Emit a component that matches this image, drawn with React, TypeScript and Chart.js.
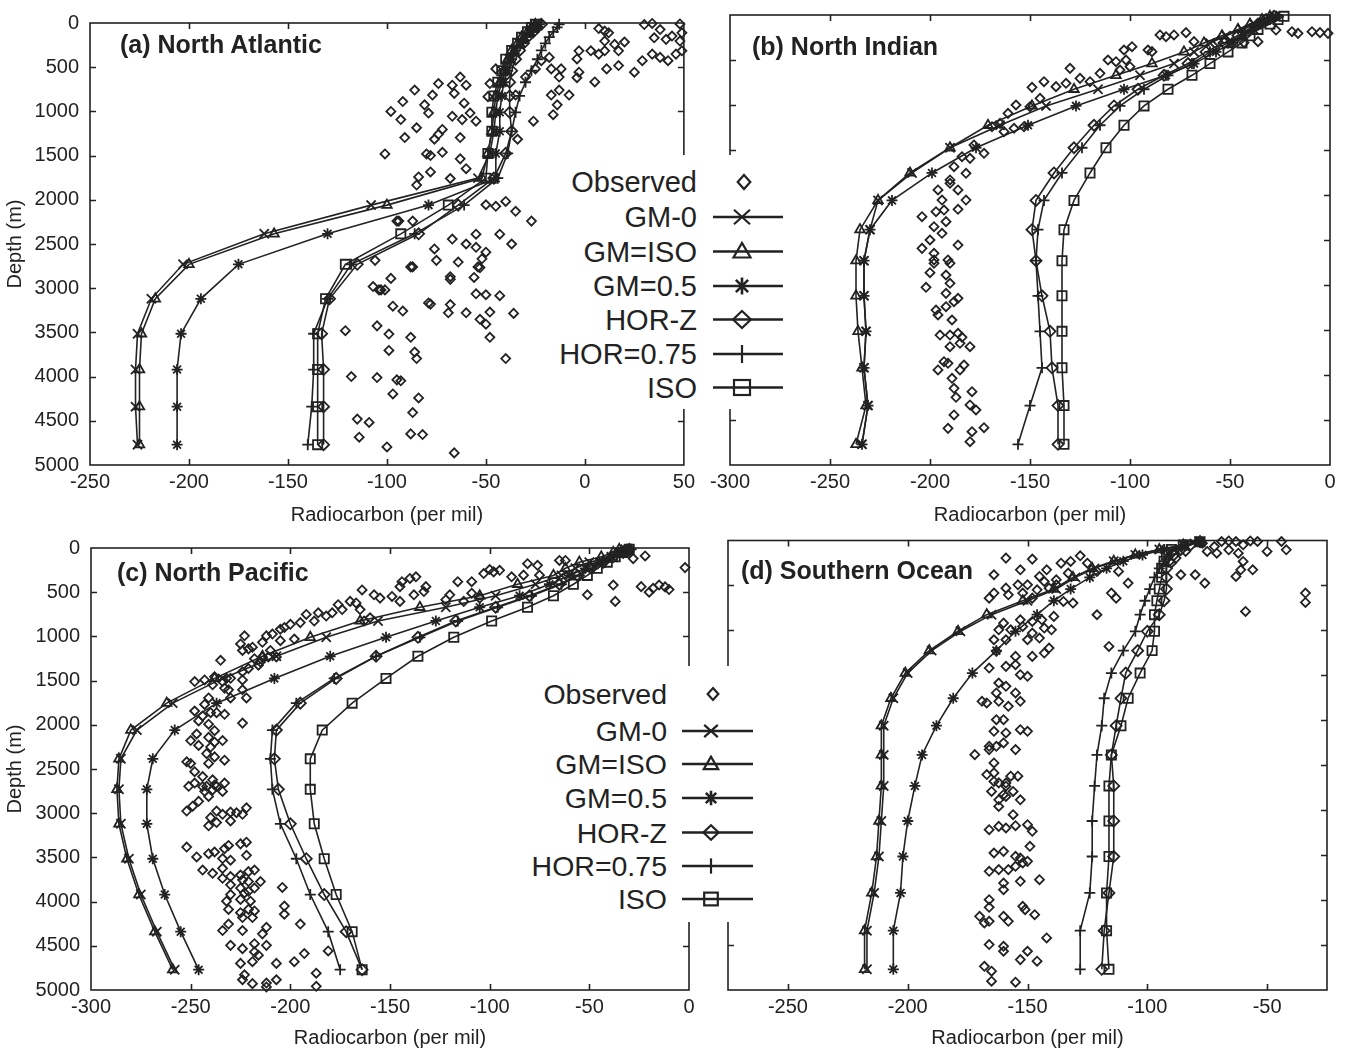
import React, { useEffect, useRef } from "react";
import { Chart, registerables } from "chart.js";

Chart.register(...registerables);

const FONT = "'Liberation Sans', Arial, Helvetica, sans-serif";
const INK = "#222222";

// ---------- shared ----------
const modelDepths = [15, 50, 100, 160, 230, 310, 410, 540, 670, 825, 1010, 1225, 1475, 1755, 2060, 2385, 2730, 3120, 3515, 3920, 4340, 4770];
const depthTicks = [0, 500, 1000, 1500, 2000, 2500, 3000, 3500, 4000, 4500, 5000];
const seriesNames = ["GM-0", "GM=ISO", "GM=0.5", "HOR-Z", "HOR=0.75", "ISO"];
const legendLabels = ["Observed", ...seriesNames];
const xTitle = "Radiocarbon (per mil)";
const yTitle = "Depth (m)";
const panelTitles = ["(a) North Atlantic", "(b) North Indian", "(c) North Pacific", "(d) Southern Ocean"];

// ---------- (a) North Atlantic ----------
const atlTicks = [-250, -200, -150, -100, -50, 0, 50];
const atlGM0 = [-24, -26, -28, -31, -33, -36, -38, -40, -42, -44, -45, -46, -48, -54, -108, -162, -203, -219, -226, -227, -227, -226];
const atlGMISO = [-25, -27, -29, -32, -34, -37, -39, -41, -43, -45, -46, -47, -49, -52, -100, -157, -200, -217, -224, -225, -225, -225];
const atlGM05 = [-23, -25, -27, -30, -32, -35, -37, -39, -41, -42, -43, -43, -45, -45, -79, -130, -175, -194, -204, -206, -206, -206];
const atlHORZ = [-22, -24, -26, -29, -31, -33, -35, -37, -38, -38, -38, -37, -40, -46, -64, -84, -115, -129, -133, -132, -132, -132];
const atlHOR075 = [-13, -14, -16, -18, -20, -22, -24, -27, -30, -33, -35, -37, -39, -44, -61, -86, -118, -130, -137, -137, -138, -140];
const atlISO = [-25, -27, -29, -32, -34, -37, -40, -42, -44, -46, -47, -47, -49, -50, -69, -93, -121, -131, -135, -135, -135, -135];
const atlObserved = [
  [7, 63], [10, 92], [12, 111], [10, 204], [15, 241], [20, 215], [30, 18], [34, 5], [38, 74], [41, 185], [35, 167], [44, 148], [48, 11], [49, 111], [48, 204], [49, 315], [46, 352], [42, 426], [38, 389], [34, 352], [29, 426], [25, 556], [17, 315], [10, 315], [7, 352], [3, 315], [-3, 315], [-4, 407], [11, 519], [17, 481], [5, 667], [-3, 556], [-4, 619], [-13, 611], [-12, 519], [-17, 519], [-18, 389], [-22, 426], [-25, 519], [-17, 815], [-13, 759], [-8, 815], [-14, 926], [-16, 1037], [-26, 1111], [-30, 611], [-35, 815], [-34, 1315], [-45, 519], [-48, 685], [-49, 833],
  [-98, 1000], [-92, 889], [-93, 1092], [-86, 759], [-85, 1185], [-81, 926], [-79, 1019], [-77, 815], [-74, 685], [-67, 704], [-66, 796], [-63, 611], [-60, 704], [-61, 907], [-58, 1019], [-55, 1111], [-67, 1056], [-62, 1093], [-72, 1204], [-74, 1259], [-76, 1315], [-91, 1296], [-63, 1296], [-101, 1481], [-80, 1481], [-78, 1500], [-72, 1463], [-63, 1537], [-60, 1648], [-78, 1685], [-84, 1741], [-85, 1833], [-68, 1759],
  [-94, 2241], [-87, 2241], [-76, 2556], [-67, 2444], [-60, 2500], [-55, 2537], [-50, 2593], [-52, 2667], [-54, 2759], [-64, 2704], [-75, 2685], [-87, 2759], [-55, 2389], [-43, 2389], [-50, 2056], [-45, 2074], [-40, 2019], [-35, 2130], [-27, 2241], [-37, 2500],
  [-98, 2889], [-103, 3019], [-88, 2759], [-68, 2870], [-68, 2900], [-56, 2878], [-53, 2767], [-55, 3063], [-50, 3074], [-43, 3085], [-79, 3167], [-78, 3180], [-97, 3204], [-92, 3259], [-68, 3185], [-69, 3278], [-60, 3278], [-48, 3270], [-36, 3285], [-53, 3352], [-50, 3407], [-48, 3556], [-99, 3519], [-88, 3556], [-99, 3704], [-86, 3722], [-85, 3796], [-40, 3796], [-93, 4048], [-97, 4196], [-84, 4241], [-87, 4407], [-88, 4648], [-82, 4656], [-100, 4796], [-66, 4863],
  [-107, 2981], [-104, 3019], [-101, 3019], [-121, 3481], [-105, 3426], [-118, 4000], [-105, 4011], [-115, 4481], [-109, 4519], [-114, 4685], [-95, 4037], [-106, 2685], [-95, 2241],
];

// ---------- (b) North Indian ----------
const indTicks = [-300, -250, -200, -150, -100, -50, 0];
const indGM0 = [-28, -32, -38, -44, -52, -60, -68, -78, -95, -116, -142, -165, -190, -209, -226, -230, -233, -233, -232, -233, -231, -234];
const indGMISO = [-30, -34, -40, -46, -54, -63, -73, -89, -107, -128, -149, -171, -190, -210, -226, -235, -237, -237, -236, -234, -232, -237];
const indGM05 = [-27, -30, -34, -38, -43, -49, -57, -68, -82, -103, -127, -151, -177, -199, -219, -230, -233, -233, -232, -233, -231, -234];
const indHORZ = [-28, -32, -36, -40, -46, -53, -62, -71, -83, -96, -108, -118, -128, -138, -147, -149, -147, -144, -140, -139, -136, -136];
const indHOR075 = [-27, -31, -35, -39, -44, -51, -60, -69, -81, -93, -105, -115, -124, -134, -143, -146, -147, -146, -145, -144, -150, -156];
const indISO = [-23, -26, -30, -36, -40, -44, -51, -60, -69, -81, -93, -103, -112, -120, -128, -133, -134, -134, -134, -134, -133, -133];
const indObserved = [
  [-85, 222], [-82, 241], [-78, 222], [-72, 196], [-68, 296], [-89, 407], [-91, 389], [-99, 352], [-103, 389], [-102, 500], [-100, 574], [-107, 519], [-111, 500], [-105, 611], [-115, 648], [-120, 741], [-125, 704], [-130, 593], [-132, 759], [-137, 796], [-143, 741], [-149, 804], [-145, 926], [-150, 1019], [-157, 1000], [-161, 1093], [-165, 1204], [-163, 1296], [-158, 1259], [-153, 1241], [-169, 1241], [-178, 1444], [-173, 1537], [-180, 1593], [-184, 1574], [-188, 1685], [-182, 1759], [-190, 1833], [-186, 1944], [-196, 1944], [-194, 2056], [-190, 1870], [-182, 2056], [-193, 2167], [-197, 2185], [-186, 2159], [-204, 2241], [-192, 2296], [-198, 2352], [-194, 2426], [-200, 2500], [-186, 2556], [-204, 2593], [-198, 2648], [-198, 2722], [-191, 2722],
  [-27, 167], [-19, 185], [-16, 204], [-9, 185], [-5, 196], [-1, 204], [-36, 296], [-43, 307], [-56, 296], [-49, 315],
  [-198, 2759], [-190, 2759], [-200, 2863], [-192, 2889], [-190, 2981], [-202, 3026], [-192, 3093], [-186, 3148], [-188, 3185], [-197, 3278], [-196, 3333], [-192, 3241], [-189, 3389], [-195, 3556], [-190, 3556], [-186, 3537], [-184, 3581], [-180, 3685], [-190, 3685], [-185, 3648], [-193, 3852], [-191, 3870], [-196, 3944], [-185, 3944], [-183, 3889], [-189, 4037], [-188, 4148], [-179, 4185], [-187, 4248], [-180, 4333], [-177, 4389], [-188, 4444], [-191, 4593], [-179, 4630], [-173, 4585], [-180, 4741],
];

// ---------- (c) North Pacific ----------
const pacTicks = [-300, -250, -200, -150, -100, -50, 0];
const pacGM0 = [-32, -35, -39, -50, -57, -64, -77, -97, -122, -156, -182, -207, -234, -259, -277, -285, -286, -285, -281, -275, -267, -258];
const pacGMISO = [-35, -38, -44, -55, -62, -68, -86, -105, -135, -165, -190, -214, -238, -262, -280, -286, -287, -286, -282, -276, -268, -259];
const pacGM05 = [-31, -34, -39, -45, -52, -60, -70, -85, -105, -127, -152, -180, -208, -237, -258, -269, -272, -272, -269, -263, -255, -246];
const pacHORZ = [-30, -33, -38, -43, -49, -56, -65, -80, -97, -117, -136, -157, -177, -195, -207, -208, -206, -200, -192, -183, -172, -164];
const pacHOR075 = [-29, -32, -36, -42, -48, -55, -64, -79, -96, -116, -135, -157, -178, -197, -209, -210, -209, -205, -197, -190, -181, -175];
const pacISO = [-30, -33, -37, -41, -46, -51, -58, -68, -81, -99, -118, -136, -152, -169, -184, -190, -190, -188, -183, -177, -169, -164];
const pacObserved = [
  [-2, 222], [-24, 437], [-18, 456], [-15, 419], [-20, 500], [-38, 419], [-37, 604], [-51, 530], [-10, 470], [-12, 440], [-30, 40], [-22, 90], [-28, 120],
  [-62, 141], [-65, 141], [-81, 178], [-76, 196], [-89, 326], [-83, 307], [-75, 307], [-100, 244], [-98, 270], [-95, 252], [-103, 289], [-109, 381], [-116, 381], [-120, 530], [-122, 585], [-109, 511], [-113, 604], [-105, 567], [-137, 326], [-140, 344], [-132, 437], [-145, 437], [-144, 381], [-133, 493], [-138, 530], [-149, 548], [-145, 604], [-158, 530], [-155, 567], [-164, 474], [-170, 604], [-167, 622], [-176, 641], [-174, 696], [-179, 733], [-182, 770], [-165, 696], [-160, 789], [-163, 826], [-188, 826], [-192, 752], [-186, 733], [-195, 844], [-200, 863], [-205, 919], [-212, 993], [-209, 974], [-214, 1067], [-219, 1122], [-221, 1141], [-223, 993], [-224, 1159], [-225, 1085], [-205, 1048], [-210, 1159], [-214, 1233], [-218, 1252], [-211, 1233], [-215, 1289], [-207, 1233], [-203, 900], [-198, 1030], [-216, 1326], [-221, 1363], [-224, 1400],
  [-235, 1270], [-238, 1456], [-234, 1511], [-232, 1474], [-239, 1548], [-233, 1585], [-231, 1604], [-230, 1474], [-224, 1493], [-243, 1493], [-248, 1511], [-230, 1696], [-224, 1604], [-222, 1696], [-241, 1696], [-243, 1770], [-248, 1844], [-244, 1900], [-240, 1863], [-237, 1863], [-233, 1881], [-246, 1956], [-241, 1993], [-238, 2067], [-241, 2141], [-247, 2104], [-250, 2178], [-238, 2196], [-234, 2178], [-240, 2252], [-246, 2233], [-242, 2326], [-238, 2363], [-233, 2400], [-241, 2437], [-250, 2437], [-252, 2419], [-248, 2530], [-244, 2585], [-239, 2622], [-233, 2659], [-237, 2696], [-242, 2696], [-248, 2659], [-251, 2696], [-243, 2752], [-224, 1981],
  [-252, 2976], [-249, 2921], [-246, 2865], [-241, 2810], [-244, 2699], [-239, 2736], [-234, 2754], [-238, 2680], [-230, 2988], [-227, 2995], [-222, 2939], [-224, 3013], [-234, 3013], [-237, 2976], [-240, 3050], [-241, 3143], [-237, 3106], [-230, 3087], [-252, 3383], [-247, 3495], [-241, 3458], [-238, 3439], [-233, 3402], [-231, 3365], [-225, 3347], [-222, 3328], [-234, 3513], [-230, 3532], [-222, 3476], [-244, 3643], [-239, 3680], [-234, 3624], [-234, 3736], [-230, 3717], [-225, 3699], [-221, 3661], [-218, 3643], [-215, 3773], [-221, 3773], [-224, 3754], [-230, 3810], [-225, 3847], [-221, 3884], [-230, 3921], [-223, 3902], [-218, 3847], [-232, 3995], [-225, 3976], [-220, 3995], [-204, 3840], [-203, 4051], [-203, 4143], [-218, 4106], [-219, 4180], [-224, 4180], [-225, 4125], [-231, 4088], [-221, 4088], [-212, 4291], [-231, 4254], [-234, 4328], [-224, 4328], [-214, 4365], [-230, 4495], [-224, 4532], [-218, 4476], [-212, 4495], [-218, 4569], [-216, 4606], [-207, 4699], [-225, 4699], [-219, 4680], [-223, 4828], [-224, 4884], [-219, 4928], [-212, 4921], [-207, 4884], [-212, 4965], [-198, 4680], [-193, 4588], [-195, 4254], [-187, 4810], [-187, 4958], [-181, 4558],
];

// ---------- (d) Southern Ocean ----------
const souTicks = [-250, -200, -150, -100, -50];
const souGM0 = [-78, -85, -95, -105, -114, -122, -130, -138, -150, -165, -178, -190, -200, -206, -210, -210, -210, -211, -212, -214, -217, -217];
const souGMISO = [-78, -85, -95, -105, -114, -123, -131, -139, -152, -167, -179, -191, -201, -207, -211, -211, -211, -212, -213, -215, -218, -218];
const souGM05 = [-78, -84, -93, -102, -110, -117, -124, -132, -139, -146, -155, -163, -173, -181, -188, -194, -197, -200, -202, -203, -206, -206];
const souHORZ = [-78, -82, -86, -89, -91, -92, -92, -92, -93, -95, -100, -104, -109, -111, -113, -115, -114, -114, -114, -116, -118, -119];
const souHOR075 = [-80, -84, -88, -91, -93, -95, -97, -99, -101, -103, -105, -110, -115, -118, -119, -121, -122, -123, -123, -124, -128, -128];
const souISO = [-78, -85, -90, -92, -93, -94, -94, -95, -96, -97, -97, -98, -103, -108, -111, -115, -116, -116, -116, -117, -117, -116];
const souObserved = [
  [-77, 30], [-72, 67], [-69, 11], [-66, 5], [-63, 11], [-60, 48], [-57, 5], [-54, 11], [-50, 122], [-44, 11], [-42, 104], [-75, 122], [-71, 141], [-66, 104], [-62, 141], [-60, 233], [-61, 326], [-63, 400], [-56, 326], [-86, 381], [-80, 381], [-76, 474], [-34, 585], [-34, 689], [-59, 789], [-84, 122], [-88, 196], [-90, 252],
  [-112, 344], [-108, 474], [-115, 585], [-113, 641], [-121, 826], [-116, 1178],
  [-159, 196], [-148, 207], [-164, 381], [-153, 326], [-142, 326], [-136, 252], [-132, 233], [-128, 170], [-125, 252], [-121, 344], [-133, 363], [-138, 437], [-145, 400], [-143, 456], [-150, 493], [-154, 493], [-159, 530], [-164, 585], [-166, 641], [-158, 604], [-152, 585], [-148, 641], [-146, 548], [-141, 530], [-138, 493], [-135, 678], [-131, 696], [-139, 844], [-144, 882], [-148, 900], [-153, 882], [-160, 919], [-162, 993], [-157, 993], [-152, 956], [-148, 1030], [-143, 974], [-140, 993], [-145, 1085], [-150, 1104], [-159, 1104], [-164, 1104], [-163, 1233], [-155, 1289], [-148, 1289], [-141, 1196], [-143, 1252], [-166, 1419], [-159, 1400], [-155, 1382], [-153, 1493], [-150, 1511], [-162, 1585], [-159, 1622], [-163, 1696], [-155, 1696], [-162, 1789], [-158, 1844], [-153, 1789], [-167, 1807], [-169, 1789], [-163, 1993], [-160, 1993], [-164, 2122], [-159, 2141], [-153, 2104], [-150, 2122], [-163, 2289], [-160, 2252], [-166, 2289], [-172, 2382], [-166, 2326], [-155, 2326], [-164, 2474], [-164, 2585], [-167, 2604], [-157, 2622], [-154, 2622], [-162, 2696], [-159, 2733],
  [-164, 2680], [-159, 2698], [-165, 2791], [-160, 2828], [-156, 2791], [-162, 2884], [-159, 2847], [-153, 2884], [-162, 2958], [-156, 3050], [-166, 3217], [-162, 3180], [-159, 3198], [-155, 3172], [-150, 3161], [-148, 3235], [-164, 3476], [-160, 3458], [-155, 3513], [-153, 3532], [-149, 3402], [-150, 3569], [-162, 3661], [-158, 3661], [-155, 3624], [-152, 3587], [-145, 3773], [-166, 3680], [-160, 3810], [-153, 3791], [-160, 3884], [-166, 3995], [-166, 4080], [-170, 4180], [-168, 4254], [-166, 4236], [-160, 4180], [-158, 4236], [-152, 4069], [-151, 4106], [-147, 4162], [-142, 4421], [-166, 4495], [-160, 4514], [-160, 4569], [-153, 4662], [-150, 4569], [-146, 4680], [-168, 4736], [-165, 4791], [-165, 4902], [-155, 4913],
];

// ---------- styling of the marks ----------
const modelMarkers = [
  { pointStyle: "crossRot", radius: 6.5 },
  { pointStyle: "triangle", radius: 5.5 },
  { pointStyle: "star", radius: 5.5 },
  { pointStyle: "rectRot", radius: 5.5 },
  { pointStyle: "cross", radius: 5.5 },
  { pointStyle: "rect", radius: 6.5 },
];

const framePlugin = {
  id: "frameTicks",
  afterDraw(chart: any) {
    const { ctx, chartArea } = chart;
    const { left, right, top, bottom } = chartArea;
    const xs = chart.scales.x;
    const ys = chart.scales.y;
    const tl = 6;
    ctx.save();
    ctx.strokeStyle = INK;
    ctx.lineWidth = 1.6;
    ctx.strokeRect(left, top, right - left, bottom - top);
    ctx.beginPath();
    xs.ticks.forEach((t: any) => {
      const px = Math.round(xs.getPixelForValue(t.value)) + 0.5;
      if (px <= left + 2 || px >= right - 2) return;
      ctx.moveTo(px, bottom);
      ctx.lineTo(px, bottom - tl);
      ctx.moveTo(px, top);
      ctx.lineTo(px, top + tl);
    });
    ys.ticks.forEach((t: any) => {
      const py = Math.round(ys.getPixelForValue(t.value)) + 0.5;
      if (py <= top + 2 || py >= bottom - 2) return;
      ctx.moveTo(left, py);
      ctx.lineTo(left + tl, py);
      ctx.moveTo(right, py);
      ctx.lineTo(right - tl, py);
    });
    ctx.stroke();
    ctx.restore();
  },
};

type PanelProps = {
  left: number; top: number; width: number; height: number;
  area: { l: number; t: number; r: number; b: number };
  xMin: number; xMax: number; xTicks: number[]; yLabels: boolean; titlePad: number;
  obs: number[][]; models: number[][];
};

function Panel(p: PanelProps) {
  const ref = useRef<HTMLCanvasElement>(null);
  useEffect(() => {
    const canvas = ref.current;
    if (!canvas) return;
    const tickFont = { family: FONT, size: 20 };
    const datasets: any[] = [
      {
        label: "Observed",
        data: p.obs.map(([x, y]) => ({ x, y })),
        showLine: false,
        pointStyle: "rectRot",
        pointRadius: 4.5,
        pointBorderColor: INK,
        pointBackgroundColor: "rgba(0,0,0,0)",
        pointBorderWidth: 1.8,
        clip: 8,
      },
      ...p.models.map((vals, i) => ({
        label: seriesNames[i],
        data: vals.map((v, k) => ({ x: v, y: modelDepths[k] })),
        showLine: true,
        borderColor: INK,
        borderWidth: 1.6,
        fill: false,
        tension: 0,
        pointStyle: modelMarkers[i].pointStyle,
        pointRadius: modelMarkers[i].radius,
        pointBorderColor: INK,
        pointBackgroundColor: "rgba(0,0,0,0)",
        pointBorderWidth: 1.8,
        clip: 8,
      })),
    ];
    const chart = new Chart(canvas, {
      type: "scatter",
      data: { datasets },
      options: {
        animation: false,
        responsive: false,
        devicePixelRatio: 1,
        events: [],
        layout: { padding: { left: 0, top: p.area.t, right: p.width - p.area.r, bottom: 0 } },
        plugins: { legend: { display: false }, tooltip: { enabled: false }, title: { display: false } },
        scales: {
          x: {
            type: "linear",
            position: "bottom",
            min: p.xMin,
            max: p.xMax,
            grid: { display: false, drawTicks: false },
            border: { display: false },
            afterBuildTicks: (s: any) => { s.ticks = p.xTicks.map((v) => ({ value: v })); },
            ticks: {
              autoSkip: false,
              maxRotation: 0,
              padding: 5,
              color: INK,
              font: tickFont,
              callback: (v: any) => String(v),
            },
            title: {
              display: true,
              text: xTitle,
              color: INK,
              font: { family: FONT, size: 20, lineHeight: 1 },
              padding: { top: 0, bottom: p.titlePad },
            },
            afterFit: (s: any) => { s.height = p.height - p.area.b; },
          },
          y: {
            type: "linear",
            position: "left",
            reverse: true,
            min: 0,
            max: 5000,
            grid: { display: false, drawTicks: false },
            border: { display: false },
            afterBuildTicks: (s: any) => { s.ticks = depthTicks.map((v) => ({ value: v })); },
            ticks: {
              display: p.yLabels,
              autoSkip: false,
              padding: 11,
              color: INK,
              font: tickFont,
              callback: (v: any) => String(v),
            },
            title: {
              display: p.yLabels,
              text: yTitle,
              color: INK,
              font: { family: FONT, size: 20, lineHeight: 1 },
              padding: { top: 5, bottom: 0 },
            },
            afterFit: (s: any) => { s.width = p.area.l; },
          },
        },
      } as any,
      plugins: [framePlugin],
    });
    return () => chart.destroy();
  }, []);
  return (
    <canvas
      ref={ref}
      width={p.width}
      height={p.height}
      style={{ position: "absolute", left: p.left, top: p.top, width: p.width, height: p.height }}
    />
  );
}

function markerShape(kind: number, cx: number, cy: number, m: number, key: string) {
  const st = { stroke: INK, strokeWidth: 2.2, fill: "none" } as any;
  if (kind === 0) {
    const h = 7 * m;
    return <polygon key={key} points={`${cx},${cy - h} ${cx + h * 0.9},${cy} ${cx},${cy + h} ${cx - h * 0.9},${cy}`} {...st} />;
  }
  if (kind === 1) {
    const h = 8 * m;
    return <path key={key} d={`M${cx - h},${cy - h * 0.9}L${cx + h},${cy + h * 0.9}M${cx + h},${cy - h * 0.9}L${cx - h},${cy + h * 0.9}`} {...st} />;
  }
  if (kind === 2) {
    const h = 8.5 * m;
    return <polygon key={key} points={`${cx - h},${cy + 6 * m} ${cx + h},${cy + 6 * m} ${cx},${cy - 8.5 * m}`} {...st} />;
  }
  if (kind === 3) {
    const h = 8.5 * m;
    const d = h * 0.72;
    return <path key={key} d={`M${cx},${cy - h}L${cx},${cy + h}M${cx - d},${cy - d}L${cx + d},${cy + d}M${cx + d},${cy - d}L${cx - d},${cy + d}`} {...st} strokeWidth={2.6} />;
  }
  if (kind === 4) {
    const h = 8.5 * m;
    return <polygon key={key} points={`${cx},${cy - h} ${cx + h * 1.05},${cy} ${cx},${cy + h} ${cx - h * 1.05},${cy}`} {...st} />;
  }
  if (kind === 5) {
    const h = 9 * m;
    return <path key={key} d={`M${cx},${cy - h}L${cx},${cy + h}`} {...st} />;
  }
  const w = 8 * m;
  const hh = 7.5 * m;
  return <rect key={key} x={cx - w} y={cy - hh} width={2 * w} height={2 * hh} {...st} />;
}

type LegendProps = {
  box: { l: number; t: number; r: number; b: number };
  textRight: number; rows: number[]; lineX1: number; lineX2: number; markerX: number; fontSize: number; m: number;
};

function Legend(p: LegendProps) {
  const w = p.box.r - p.box.l;
  const h = p.box.b - p.box.t;
  return (
    <div style={{ position: "absolute", left: p.box.l, top: p.box.t, width: w, height: h, background: "#ffffff" }}>
      {legendLabels.map((lab, i) => (
        <div
          key={lab}
          style={{
            position: "absolute",
            right: p.box.r - p.textRight,
            top: p.rows[i] - p.box.t - 17,
            height: 34,
            lineHeight: "34px",
            fontSize: p.fontSize,
            fontFamily: FONT,
            color: INK,
            whiteSpace: "nowrap",
          }}
        >
          {lab}
        </div>
      ))}
      <svg width={w} height={h} style={{ position: "absolute", left: 0, top: 0 }}>
        {legendLabels.map((lab, i) => {
          const cy = p.rows[i] - p.box.t;
          const cx = p.markerX - p.box.l;
          const items: any[] = [];
          if (i > 0) {
            items.push(
              <line key={lab + "l"} x1={p.lineX1 - p.box.l} x2={p.lineX2 - p.box.l} y1={cy} y2={cy} stroke={INK} strokeWidth={2.4} />
            );
          }
          items.push(markerShape(i, i === 0 ? cx + 2 : cx, cy, p.m, lab + "m"));
          return items;
        })}
      </svg>
    </div>
  );
}

const titleStyle = {
  position: "absolute",
  fontFamily: FONT,
  fontWeight: "bold",
  fontSize: 25,
  lineHeight: "25px",
  color: INK,
  whiteSpace: "nowrap",
} as any;

export default function App() {
  return (
    <div style={{ position: "absolute", left: 0, top: 0, width: 1347, height: 1050, background: "#ffffff", overflow: "hidden" }}>
      <Panel left={0} top={0} width={700} height={525} area={{ l: 90, t: 15, r: 686, b: 465 }} xMin={-250} xMax={50} xTicks={atlTicks} yLabels={true} titlePad={0}
        obs={atlObserved} models={[atlGM0, atlGMISO, atlGM05, atlHORZ, atlHOR075, atlISO]} />
      <Panel left={700} top={0} width={647} height={525} area={{ l: 30, t: 15, r: 630, b: 465 }} xMin={-300} xMax={0} xTicks={indTicks} yLabels={false} titlePad={0}
        obs={indObserved} models={[indGM0, indGMISO, indGM05, indHORZ, indHOR075, indISO]} />
      <Panel left={0} top={525} width={700} height={525} area={{ l: 91, t: 15.5, r: 689, b: 465 }} xMin={-300} xMax={0} xTicks={pacTicks} yLabels={true} titlePad={2}
        obs={pacObserved} models={[pacGM0, pacGMISO, pacGM05, pacHORZ, pacHOR075, pacISO]} />
      <Panel left={700} top={525} width={647} height={525} area={{ l: 28, t: 15.5, r: 627, b: 465 }} xMin={-275} xMax={-25} xTicks={souTicks} yLabels={false} titlePad={2}
        obs={souObserved} models={[souGM0, souGMISO, souGM05, souHORZ, souHOR075, souISO]} />

      <div style={{ ...titleStyle, left: 120, top: 32 }}>{panelTitles[0]}</div>
      <div style={{ ...titleStyle, left: 752, top: 34 }}>{panelTitles[1]}</div>
      <div style={{ ...titleStyle, left: 117, top: 560 }}>{panelTitles[2]}</div>
      <div style={{ ...titleStyle, left: 741, top: 558 }}>{panelTitles[3]}</div>

      <Legend box={{ l: 552, t: 155, r: 792, b: 409 }} textRight={697} rows={[182, 217, 251.5, 286, 319.5, 354, 387.5]}
        lineX1={713} lineX2={783} markerX={742} fontSize={29} m={1} />
      <Legend box={{ l: 522, t: 666, r: 760, b: 922 }} textRight={667} rows={[694, 731, 764, 798, 832.5, 866, 899]}
        lineX1={682} lineX2={753} markerX={711} fontSize={28.5} m={0.85} />
    </div>
  );
}
